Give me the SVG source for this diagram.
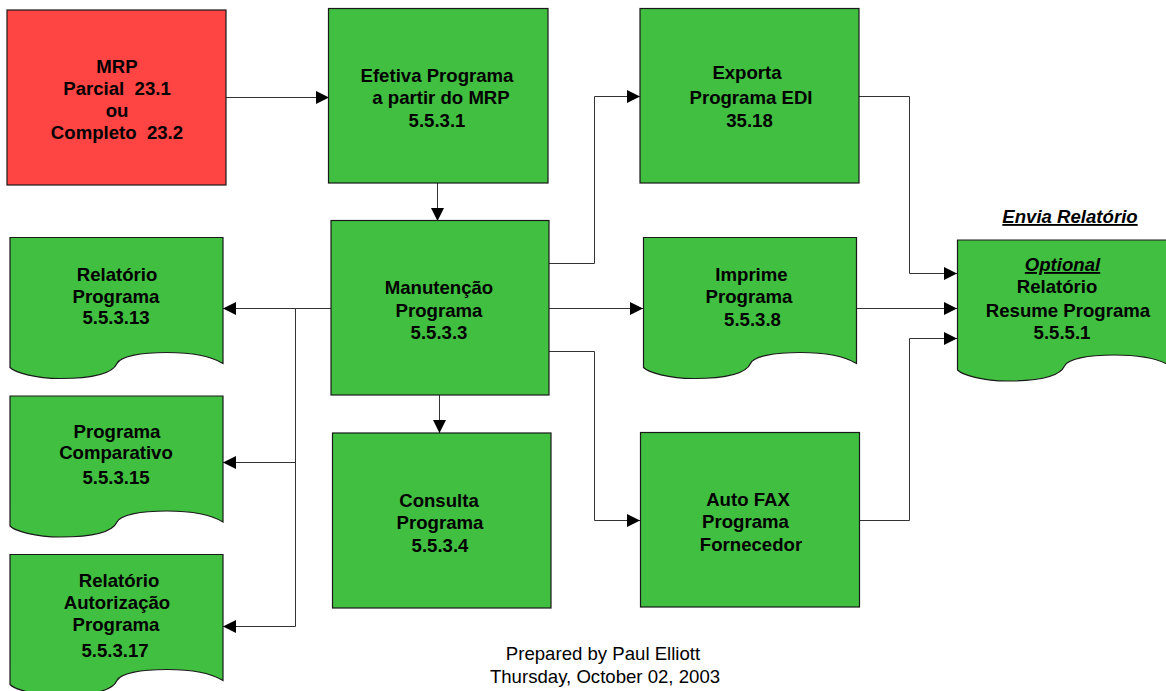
<svg xmlns="http://www.w3.org/2000/svg" width="1166" height="691" viewBox="0 0 1166 691">
  <style>
    .box { fill: #40BF40; stroke: #1a1a1a; stroke-width: 1.2; }
    .red { fill: #FF4444; stroke: #1a1a1a; stroke-width: 1.2; }
    .lbl { font-family: "Liberation Sans", Arial, sans-serif; font-weight: bold; font-size: 18.6px; fill: #000; text-anchor: middle; }
    .note { font-family: "Liberation Sans", Arial, sans-serif; font-size: 18.6px; fill: #000; text-anchor: middle; }
    .wire { fill: none; stroke: #333; stroke-width: 1; }
  </style>
  <defs>
    <!-- document shape with wavy bottom edge, origin at top-left -->
    <path id="doc" class="box" d="M0,0 H213 V126 C200,118 180,115 157,115 C130,115 110,119 107,126 C103,135 85,141 50,141 C25,141 5,135 0,130 Z"/>
    <marker id="arr" viewBox="0 0 13 13" refX="13" refY="6.5" markerWidth="13" markerHeight="13" markerUnits="userSpaceOnUse" orient="auto">
      <path d="M0,0 L13,6.5 L0,13 Z" fill="#000"/>
    </marker>
  </defs>

  <rect width="1166" height="691" fill="#fff"/>

  <!-- connectors -->
  <g id="connectors">
    <path class="wire" d="M226,97.5 H329" marker-end="url(#arr)"/>
    <path class="wire" d="M437.5,183 V221" marker-end="url(#arr)"/>
    <path class="wire" d="M439.5,395 V433" marker-end="url(#arr)"/>
    <path class="wire" d="M549,263.5 H594.5 V96.5 H640" marker-end="url(#arr)"/>
    <path class="wire" d="M549,308.5 H643" marker-end="url(#arr)"/>
    <path class="wire" d="M549,351.5 H594.5 V520.5 H640" marker-end="url(#arr)"/>
    <path class="wire" d="M859,96.5 H909.5 V273.5 H957" marker-end="url(#arr)"/>
    <path class="wire" d="M857,308.5 H957" marker-end="url(#arr)"/>
    <path class="wire" d="M859,520.5 H909.5 V338.5 H957" marker-end="url(#arr)"/>
    <path class="wire" d="M331,308.5 H223" marker-end="url(#arr)"/>
    <path class="wire" d="M295.5,308 V626.5"/>
    <path class="wire" d="M295.5,462.5 H223" marker-end="url(#arr)"/>
    <path class="wire" d="M295.5,626.5 H223" marker-end="url(#arr)"/>
  </g>

  <g id="mrp">
    <rect class="red" x="7" y="10" width="219" height="175"/>
    <text class="lbl" x="117" y="73">MRP</text>
    <text class="lbl" x="117" y="95" xml:space="preserve">Parcial  23.1</text>
    <text class="lbl" x="117" y="117">ou</text>
    <text class="lbl" x="117" y="139" xml:space="preserve">Completo  23.2</text>
  </g>

  <g id="efetiva">
    <rect class="box" x="328.5" y="8.5" width="219.5" height="174.5"/>
    <text class="lbl" x="437" y="82">Efetiva Programa</text>
    <text class="lbl" x="441" y="104">a partir do MRP</text>
    <text class="lbl" x="437" y="127">5.5.3.1</text>
  </g>

  <g id="exporta">
    <rect class="box" x="640" y="8.5" width="219" height="174.5"/>
    <text class="lbl" x="747" y="79">Exporta</text>
    <text class="lbl" x="751" y="104">Programa EDI</text>
    <text class="lbl" x="749.5" y="127">35.18</text>
  </g>

  <g id="manutencao">
    <rect class="box" x="331" y="220.5" width="218" height="174.5"/>
    <text class="lbl" x="439" y="294">Manutenção</text>
    <text class="lbl" x="439" y="317">Programa</text>
    <text class="lbl" x="439" y="339">5.5.3.3</text>
  </g>

  <g id="consulta">
    <rect class="box" x="332.5" y="433" width="218.5" height="175"/>
    <text class="lbl" x="439" y="507">Consulta</text>
    <text class="lbl" x="440" y="529">Programa</text>
    <text class="lbl" x="440" y="552">5.5.3.4</text>
  </g>

  <g id="imprime">
    <use href="#doc" transform="translate(643.5,237.5)"/>
    <text class="lbl" x="751.5" y="281">Imprime</text>
    <text class="lbl" x="749" y="303">Programa</text>
    <text class="lbl" x="752.5" y="326">5.5.3.8</text>
  </g>

  <g id="autofax">
    <rect class="box" x="640.5" y="432.5" width="219" height="174.5"/>
    <text class="lbl" x="748" y="506">Auto FAX</text>
    <text class="lbl" x="745.5" y="528">Programa</text>
    <text class="lbl" x="751" y="551">Fornecedor</text>
  </g>

  <g id="relatorio-programa">
    <use href="#doc" transform="translate(10,237.5)"/>
    <text class="lbl" x="117" y="281">Relatório</text>
    <text class="lbl" x="116" y="303">Programa</text>
    <text class="lbl" x="116" y="324">5.5.3.13</text>
  </g>

  <g id="programa-comparativo">
    <use href="#doc" transform="translate(10,396)"/>
    <text class="lbl" x="117" y="438">Programa</text>
    <text class="lbl" x="116" y="459">Comparativo</text>
    <text class="lbl" x="116" y="484">5.5.3.15</text>
  </g>

  <g id="relatorio-autorizacao">
    <use href="#doc" transform="translate(10,554.5)"/>
    <text class="lbl" x="119" y="587">Relatório</text>
    <text class="lbl" x="117" y="609">Autorização</text>
    <text class="lbl" x="116" y="631">Programa</text>
    <text class="lbl" x="115" y="657">5.5.3.17</text>
  </g>

  <g id="resume-programa">
    <text class="lbl" x="1070" y="223" font-style="italic" text-decoration="underline">Envia Relatório</text>
    <use href="#doc" transform="translate(957.5,240)"/>
    <text class="lbl" x="1062.5" y="271" font-style="italic" text-decoration="underline">Optional</text>
    <text class="lbl" x="1057" y="293">Relatório</text>
    <text class="lbl" x="1068" y="317">Resume Programa</text>
    <text class="lbl" x="1062" y="339">5.5.5.1</text>
  </g>

  <g id="footer">
    <text class="note" x="603" y="660">Prepared by Paul Elliott</text>
    <text class="note" x="605" y="683">Thursday, October 02, 2003</text>
  </g>
</svg>
